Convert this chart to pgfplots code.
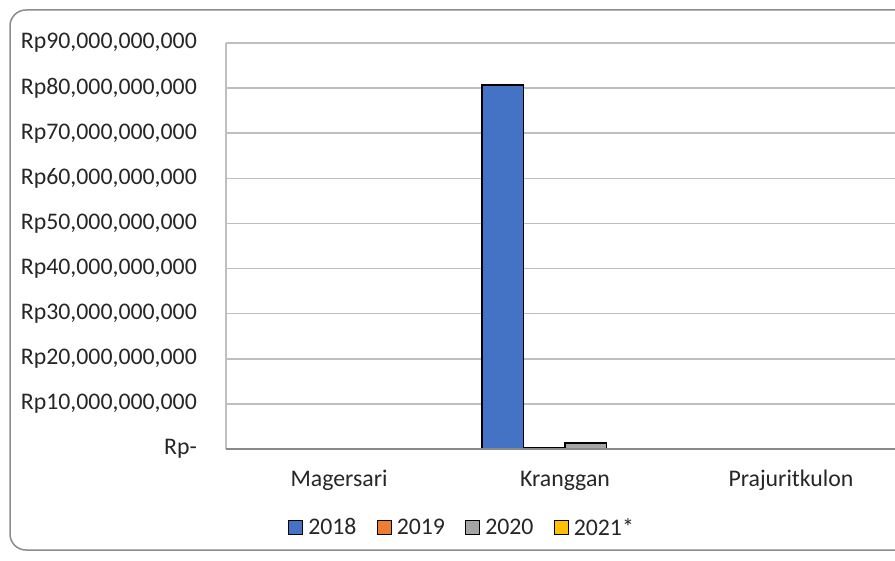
\documentclass[border=0pt]{standalone}
\usepackage{pgfplots}
\pgfplotsset{compat=1.18}
\usepackage{fontspec}
\setmainfont{Carlito}
\definecolor{cA}{HTML}{4472C4}
\definecolor{cB}{HTML}{ED7D31}
\definecolor{cC}{HTML}{A5A5A5}
\definecolor{cD}{HTML}{FFC000}
\definecolor{gridc}{HTML}{BFBFBF}
\definecolor{axisc}{HTML}{898989}
\definecolor{framec}{HTML}{8C8C8C}
\definecolor{textc}{HTML}{262626}
\begin{document}
\begin{tikzpicture}[x=1pt,y=1pt,font=\fontsize{23.8}{28}\selectfont]
\useasboundingbox (0,0) rectangle (895,-561);
\begin{scope}
\clip (0,0) rectangle (895,-561);
\draw[framec, line width=1.5pt, rounded corners=16pt] (10,-10) rectangle (916,-550);
\begin{axis}[
  at={(226pt,-449pt)}, anchor=south west,
  scale only axis, width=678pt, height=406pt,
  xmin=-0.5, xmax=2.5, ymin=0, ymax=90,
  ybar=0pt, bar width=41.5pt,
  xtick={0,1,2}, xticklabels={Magersari,Kranggan,Prajuritkulon},
  ytick={0,10,...,90},
  yticklabels={{Rp-},{Rp10,000,000,000},{Rp20,000,000,000},{Rp30,000,000,000},{Rp40,000,000,000},{Rp50,000,000,000},{Rp60,000,000,000},{Rp70,000,000,000},{Rp80,000,000,000},{Rp90,000,000,000}},
  axis x line*=bottom, axis y line*=left,
  x axis line style={draw=none},
  y axis line style={draw=gridc, line width=1.5pt, -},
  major tick length=0pt,
  ymajorgrids, grid style={draw=gridc, line width=1.5pt},
  yticklabel style={anchor=east, inner sep=0pt, xshift=-29pt, text=textc},
  xticklabel style={anchor=base, inner sep=0pt, yshift=-37pt, text=textc},
  legend columns=4,
  legend style={at={(axis description cs:0.348,-0.193)}, anchor=center, draw=none, fill=none,
    text=textc, /tikz/every even column/.append style={column sep=18pt}},
  legend image code/.code={\draw[#1, draw=black, line width=1.2pt] (0pt,-7pt) rectangle (14pt,7pt); \path (17pt,0pt);},
]
\addplot[fill=cA, draw=black, line width=1.3pt] coordinates {(0,0) (1,80.7) (2,0)};
\addplot[fill=cB, draw=black, line width=1.3pt] coordinates {(0,0) (1,0.25) (2,0)};
\addplot[fill=cC, draw=black, line width=1.3pt] coordinates {(0,0.03) (1,1.35) (2,0)};
\addplot[fill=cD, draw=black, line width=1.3pt] coordinates {(0,0) (1,0) (2,0)};
\legend{2018,2019,2020,2021*}
\draw[axisc, line width=2pt] (rel axis cs:0,0) -- (rel axis cs:1,0);
\end{axis}
\end{scope}
\end{tikzpicture}
\end{document}
